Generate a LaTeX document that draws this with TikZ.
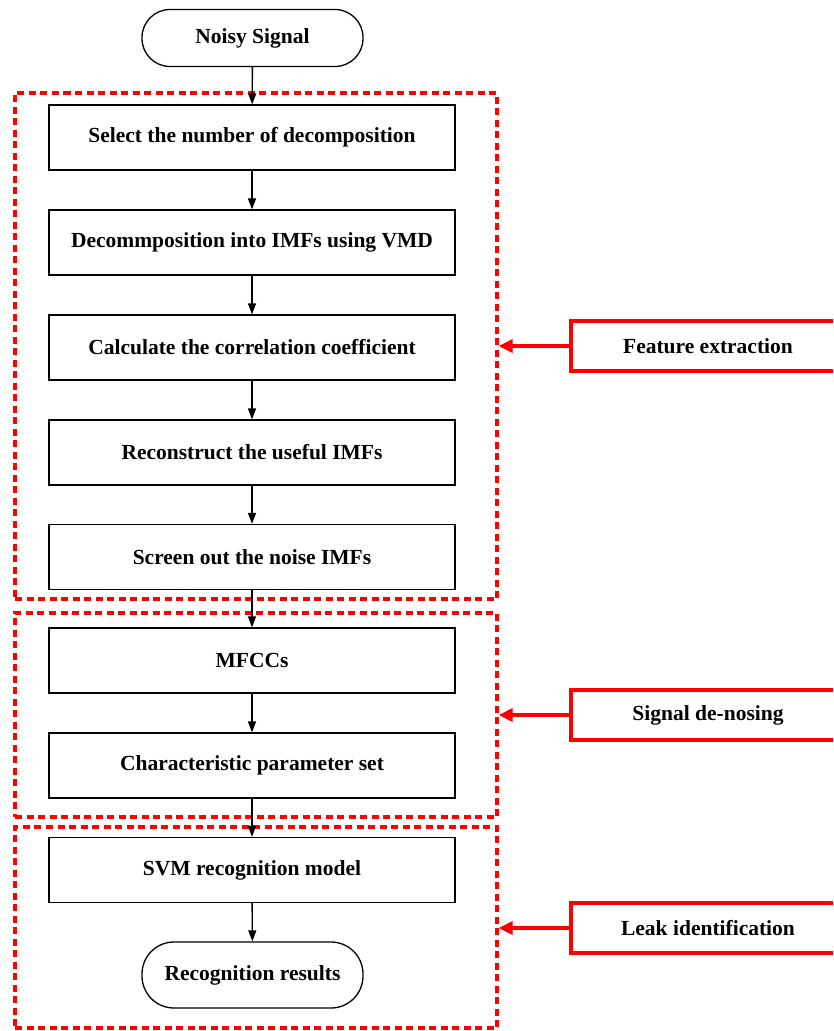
\documentclass[tikz,border=0pt]{standalone}
\usepackage{fontspec}
\setmainfont{Liberation Serif}
\usetikzlibrary{arrows.meta}
\begin{document}
\begin{tikzpicture}[x=1pt,y=-1pt,
  every node/.style={font=\fontsize{21.5}{25}\selectfont\bfseries},
  stepbox/.style={draw=black,line width=1.3pt,minimum width=406pt,minimum height=65pt,inner sep=0pt},
  pill/.style={draw=black,line width=1.3pt,rounded corners=28pt,minimum width=221pt,minimum height=57pt,inner sep=0pt},
  group/.style={draw=red,line width=3.2pt,dash pattern=on 7pt off 4.5pt,minimum width=482pt,inner sep=0pt},
  tag/.style={draw=red,line width=3.2pt,minimum width=274pt,minimum height=50pt,inner sep=0pt},
  flow/.style={draw=black,line width=1.4pt,-{Triangle[length=11pt,width=8pt]}},
  point/.style={draw=red,line width=3.2pt,-{Triangle[length=14pt,width=13pt]}}
]
\useasboundingbox (0,0) rectangle (833,1031);
\clip (0,0) rectangle (833,1031);
\fill[white] (0,0) rectangle (833,1031);

% group frames
\node[group,minimum height=506pt] (g1) at (256,346) {};
\node[group,minimum height=204pt] (g2) at (256,715) {};
\node[group,minimum height=201pt] (g3) at (256,927.5) {};

% flow nodes
\node[pill] (ns) at (252.5,38) {Noisy Signal};
\node[stepbox] (b1) at (252,137.5) {Select the number of decomposition};
\node[stepbox] (b2) at (252,242.5) {Decommposition into IMFs using VMD};
\node[stepbox] (b3) at (252,347.5) {Calculate the correlation coefficient};
\node[stepbox] (b4) at (252,452.5) {Reconstruct the useful IMFs};
\node[stepbox] (b5) at (252,557) {Screen out the noise IMFs};
\node[stepbox] (b6) at (252,660.5) {MFCCs};
\node[stepbox] (b7) at (252,765.5) {Characteristic parameter set};
\node[stepbox] (b8) at (252,870) {SVM recognition model};
\node[pill,minimum height=66pt,rounded corners=32pt] (rr) at (252.5,975) {Recognition results};

\draw[flow] (ns) -- (b1);
\draw[flow] (b1) -- (b2);
\draw[flow] (b2) -- (b3);
\draw[flow] (b3) -- (b4);
\draw[flow] (b4) -- (b5);
\draw[flow] (b5) -- (b6);
\draw[flow] (b6) -- (b7);
\draw[flow] (b7) -- (b8);
\draw[flow] (b8) -- (rr);

% tags
\node[tag] (fe) at (708,346) {Feature extraction};
\node[tag] (sd) at (708,715) {Signal de-nosing};
\node[tag] (li) at (708,928) {Leak identification};

\draw[point] (fe.west) -- (g1.east |- fe.west);
\draw[point] (sd.west) -- (g2.east |- sd.west);
\draw[point] (li.west) -- (g3.east |- li.west);
\end{tikzpicture}
\end{document}
